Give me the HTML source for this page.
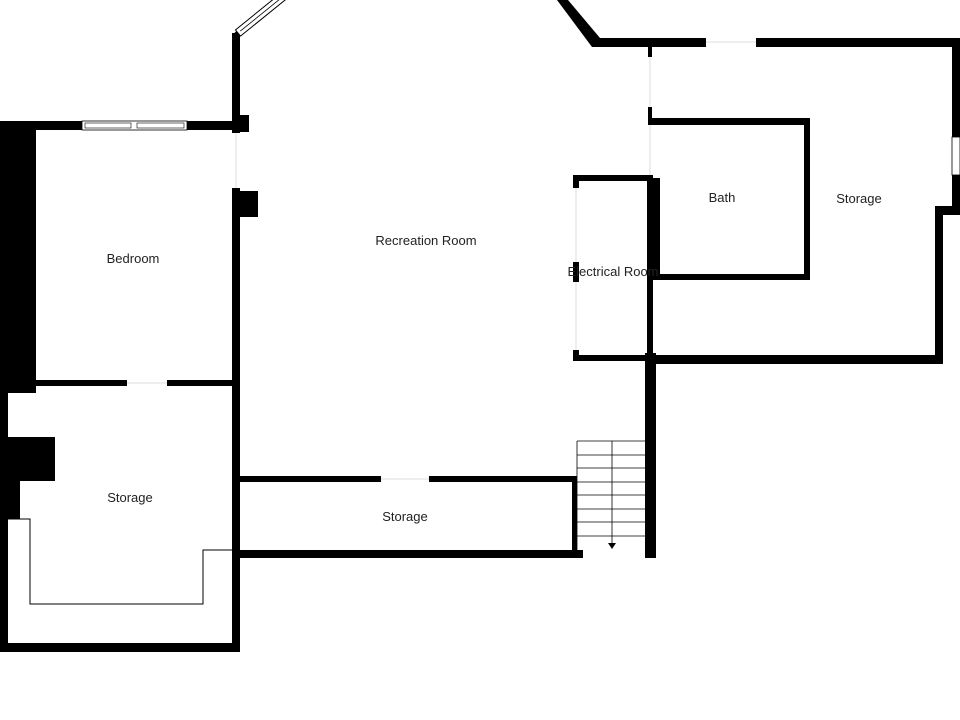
<!DOCTYPE html>
<html><head><meta charset="utf-8"><style>
html,body{margin:0;padding:0;background:#fff;}
svg{display:block;}
text{font-family:"Liberation Sans","DejaVu Sans",sans-serif;font-size:13px;fill:#222;text-anchor:middle;}
</style></head><body>
<svg width="960" height="720" viewBox="0 0 960 720" xmlns="http://www.w3.org/2000/svg">
<g fill="#000">
<!-- left thick block -->
<rect x="0" y="121" width="36" height="272"/>
<rect x="0" y="392" width="8" height="260"/>
<rect x="8" y="437" width="47" height="44"/>
<rect x="8" y="481" width="12" height="38"/>
<!-- bedroom top wall -->
<rect x="0" y="121" width="82" height="9"/>
<rect x="187" y="121" width="50" height="9"/>
<rect x="232" y="115" width="17" height="17"/>
<!-- rec room left wall -->
<rect x="232" y="33" width="8" height="100"/>
<rect x="232" y="188" width="8" height="464"/>
<rect x="232" y="191" width="26" height="26"/>
<!-- bedroom/storage divider -->
<rect x="35" y="380" width="92" height="6"/>
<rect x="167" y="380" width="65" height="6"/>
<!-- storage bottom wall -->
<rect x="0" y="643" width="240" height="9"/>
<!-- middle storage -->
<rect x="240" y="476" width="141" height="6"/>
<rect x="429" y="476" width="148" height="6"/>
<rect x="572" y="476" width="5" height="80"/>
<rect x="240" y="550" width="343" height="8"/>
<!-- rec room right wall -->
<rect x="645" y="353" width="11" height="205"/>
<!-- electrical -->
<rect x="573" y="175" width="80" height="6"/>
<rect x="573" y="175" width="6" height="13"/>
<rect x="573" y="262" width="6" height="20"/>
<rect x="573" y="350" width="6" height="11"/>
<rect x="573" y="355" width="80" height="6"/>
<rect x="647" y="178" width="13" height="100"/>
<rect x="647" y="175" width="6" height="190"/>
<!-- wall at x 648 top -->
<rect x="648" y="42" width="4" height="15"/>
<rect x="648" y="107" width="4" height="18"/>
<!-- bath -->
<rect x="648" y="118" width="162" height="7"/>
<rect x="804" y="118" width="6" height="162"/>
<rect x="652" y="274" width="158" height="6"/>
<!-- right storage -->
<rect x="595" y="38" width="111" height="9"/>
<rect x="756" y="38" width="204" height="9"/>
<rect x="952" y="38" width="8" height="99"/>
<rect x="952" y="175" width="8" height="40"/>
<rect x="935" y="206" width="25" height="9"/>
<rect x="935" y="206" width="8" height="158"/>
<rect x="652" y="355" width="291" height="9"/>
</g>
<!-- diagonal wall top right -->
<polygon points="557,0 568,0 600,38 600,47 592,47" fill="#000"/>
<!-- diagonal window top left -->
<polygon points="232,35 240,28 240,40 236,40" fill="#000"/>
<g transform="translate(238,33) rotate(-39)">
<rect x="0" y="-4" width="58" height="8" fill="#fff" stroke="#000" stroke-width="1"/>
<line x1="3" y1="0" x2="58" y2="0" stroke="#000" stroke-width="0.8"/>
</g>
<!-- bedroom window -->
<rect x="82" y="121" width="105" height="9" fill="#fff" stroke="#000" stroke-width="0.8"/>
<rect x="85" y="123" width="46" height="5" fill="#fff" stroke="#000" stroke-width="0.6"/>
<rect x="137" y="123" width="47" height="5" fill="#fff" stroke="#000" stroke-width="0.6"/>
<!-- right window -->
<rect x="952" y="137" width="8" height="38" fill="#fff" stroke="#000" stroke-width="0.8"/>
<!-- door gaps light lines -->
<g stroke="#ddd" stroke-width="1" fill="none">
<line x1="236" y1="133" x2="236" y2="188"/>
<line x1="127" y1="383" x2="167" y2="383"/>
<line x1="381" y1="479" x2="429" y2="479"/>
<line x1="706" y1="42" x2="756" y2="42"/>
<line x1="650" y1="57" x2="650" y2="107"/>
<line x1="650" y1="125" x2="650" y2="175"/>
<line x1="576" y1="188" x2="576" y2="262"/>
<line x1="576" y1="282" x2="576" y2="350"/>
</g>
<!-- storage inner line -->
<polyline points="8,519 30,519 30,604 203,604 203,550 232,550" fill="none" stroke="#000" stroke-width="1"/>
<!-- stairs -->
<g stroke="#000" stroke-width="0.8" fill="none">
<line x1="577" y1="441" x2="577" y2="550"/>
<line x1="577" y1="441" x2="647" y2="441"/>
<line x1="577" y1="455" x2="647" y2="455"/>
<line x1="577" y1="468" x2="647" y2="468"/>
<line x1="577" y1="482" x2="647" y2="482"/>
<line x1="577" y1="495" x2="647" y2="495"/>
<line x1="577" y1="509" x2="647" y2="509"/>
<line x1="577" y1="522" x2="647" y2="522"/>
<line x1="577" y1="536" x2="647" y2="536"/>
<line x1="612" y1="441" x2="612" y2="545"/>
</g>
<polygon points="608,543 616,543 612,549" fill="#000"/>
<!-- labels -->
<text x="133" y="263">Bedroom</text>
<text x="426" y="245">Recreation Room</text>
<text x="130" y="502">Storage</text>
<text x="405" y="521">Storage</text>
<text x="722" y="202">Bath</text>
<text x="859" y="203">Storage</text>
<text x="613" y="276">Electrical Room</text>
</svg>
</body></html>
